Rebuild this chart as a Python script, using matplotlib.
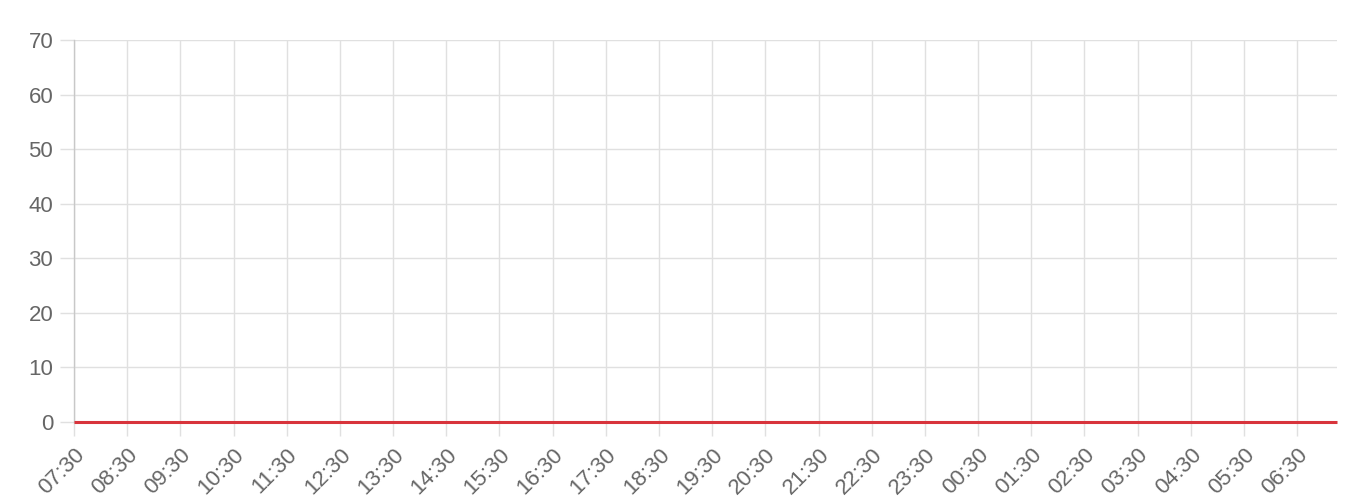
import matplotlib.pyplot as plt
import numpy as np

plt.rcParams['font.family'] = ['Liberation Sans', 'DejaVu Sans']

# Horários (minutos desde 07:30) e valores medidos
tick_labels = ["07:30", "08:30", "09:30", "10:30", "11:30", "12:30", "13:30", "14:30",
               "15:30", "16:30", "17:30", "18:30", "19:30", "20:30", "21:30", "22:30",
               "23:30", "00:30", "01:30", "02:30", "03:30", "04:30", "05:30", "06:30"]
tick_minutes = [0, 60, 120, 180, 240, 300, 360, 420, 480, 540, 600, 660,
                720, 780, 840, 900, 960, 1020, 1080, 1140, 1200, 1260, 1320, 1380]

point_minutes = [0, 60, 120, 180, 240, 300, 360, 420, 480, 540, 600, 660, 720,
                 780, 840, 900, 960, 1020, 1080, 1140, 1200, 1260, 1320, 1380, 1425]
point_values = [0, 0, 0, 0, 0, 0, 0, 0, 0, 0, 0, 0, 0,
                0, 0, 0, 0, 0, 0, 0, 0, 0, 0, 0, 0]

y_ticks = [0, 10, 20, 30, 40, 50, 60, 70]

grid_col = "#e0e0e0"
text_col = "#666666"

fig = plt.figure(figsize=(13.6, 5.03), dpi=100)
ax = fig.add_axes([74 / 1360, 1 - 422 / 503, (1337 - 74) / 1360, (422 - 40) / 503])

ax.plot(point_minutes, point_values, color="#d8343c", linewidth=2.2, zorder=3,
        solid_capstyle="butt", clip_on=False)

ax.set_xlim(0, point_minutes[-1])
ax.set_ylim(0, 70)
ax.set_xticks(tick_minutes)
ax.set_xticklabels(tick_labels, rotation=45, ha="right", rotation_mode="anchor")
ax.set_yticks(y_ticks)

ax.grid(True, color=grid_col, linewidth=1)
ax.set_axisbelow(True)
for side in ["top", "right", "bottom"]:
    ax.spines[side].set_visible(False)
ax.spines["left"].set_color("#c8c8c8")
ax.spines["left"].set_linewidth(1)

ax.tick_params(axis="both", colors=grid_col, labelcolor=text_col, labelsize=16,
               length=10, width=1)
ax.tick_params(axis="y", pad=5)
ax.tick_params(axis="x", pad=6)

fig.savefig("out.png", dpi=100)
